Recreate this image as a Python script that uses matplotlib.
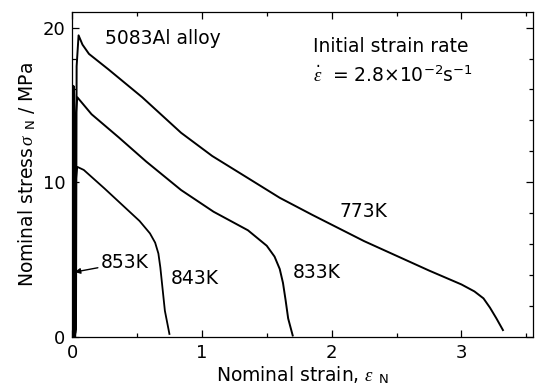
import matplotlib.pyplot as plt
from matplotlib.ticker import MultipleLocator

plt.rcParams['font.family'] = ['DejaVu Sans']
plt.rcParams['mathtext.fontset'] = 'custom'
plt.rcParams['mathtext.rm'] = 'DejaVu Sans'
plt.rcParams['mathtext.it'] = 'Liberation Serif:italic'

# nominal strain / nominal stress (MPa)
strain_773 = [0.0, 0.02, 0.03, 0.035, 0.05, 0.08, 0.13, 0.28, 0.54, 0.84, 1.08,
              1.35, 1.6, 1.85, 2.25, 2.75, 3.0, 3.1, 3.17, 3.22, 3.27, 3.32]
stress_773 = [0.0, 0.0, 0.5, 17.5, 19.5, 18.9, 18.3, 17.3, 15.5, 13.2, 11.7,
              10.3, 9.0, 7.9, 6.2, 4.3, 3.4, 2.95, 2.5, 1.9, 1.2, 0.45]

strain_833 = [0.0, 0.015, 0.025, 0.03, 0.04, 0.15, 0.36, 0.57, 0.84, 1.09,
              1.355, 1.5, 1.56, 1.60, 1.625, 1.645, 1.665, 1.70]
stress_833 = [0.0, 0.0, 0.5, 14.5, 15.5, 14.4, 12.9, 11.35, 9.5, 8.1,
              6.9, 5.9, 5.2, 4.4, 3.5, 2.4, 1.2, 0.1]

strain_843 = [0.0, 0.015, 0.025, 0.03, 0.04, 0.09, 0.25, 0.43, 0.52, 0.6,
              0.64, 0.665, 0.68, 0.695, 0.715, 0.75]
stress_843 = [0.0, 0.0, 0.3, 10.2, 11.0, 10.8, 9.6, 8.2, 7.5, 6.7,
              6.1, 5.4, 4.5, 3.3, 1.7, 0.2]

strain_853 = [0.0, 0.004, 0.008, 0.012, 0.016, 0.02]
stress_853 = [0.0, 8.0, 16.2, 15.6, 6.0, 0.0]

fig = plt.figure(figsize=(5.42, 3.91), dpi=100)
ax = fig.add_axes([0.133, 0.138, 0.850, 0.831])

ax.plot(strain_773, stress_773, color='black', linewidth=1.4)
ax.plot(strain_833, stress_833, color='black', linewidth=1.4)
ax.plot(strain_843, stress_843, color='black', linewidth=1.3)
ax.plot(strain_853, stress_853, color='black', linewidth=2.2)

ax.set_xlim(0, 3.55)
ax.set_ylim(0, 21)
ax.xaxis.set_major_locator(MultipleLocator(1))
ax.xaxis.set_minor_locator(MultipleLocator(0.5))
ax.yaxis.set_major_locator(MultipleLocator(10))
ax.yaxis.set_minor_locator(MultipleLocator(2))
ax.tick_params(which='both', direction='in', top=True, right=True,
               labelsize=13, width=0.9)
ax.tick_params(which='major', length=5, pad=5)
ax.tick_params(which='minor', length=3)
for s in ax.spines.values():
    s.set_linewidth(0.9)

ax.set_xlabel(r'Nominal strain, $\varepsilon$ $_{\rm N}$', fontsize=13.5, labelpad=2)
ax.set_ylabel(r'Nominal stress$\,\sigma$ $_{\rm N}$ / MPa', fontsize=13.5, labelpad=3)

ax.text(0.25, 18.95, '5083Al alloy', fontsize=13.5, va='baseline')
ax.text(1.86, 18.4, 'Initial strain rate', fontsize=13.5, va='baseline')
ax.text(1.86, 16.5, r'$\dot{\varepsilon}$  = 2.8$\times$10$^{-2}$s$^{-1}$',
        fontsize=13.5, va='baseline')

ax.text(2.06, 8.1, '773K', fontsize=13.5, va='center')
ax.text(1.70, 4.2, '833K', fontsize=13.5, va='center')
ax.text(0.76, 3.8, '843K', fontsize=13.5, va='center')
ax.annotate('853K', xy=(0.02, 4.2), xytext=(0.22, 4.8), fontsize=13.5,
            va='center',
            arrowprops=dict(arrowstyle='-|>', color='black', lw=1.0,
                            shrinkA=0, shrinkB=0, mutation_scale=8))

fig.savefig('out.png', dpi=100)
